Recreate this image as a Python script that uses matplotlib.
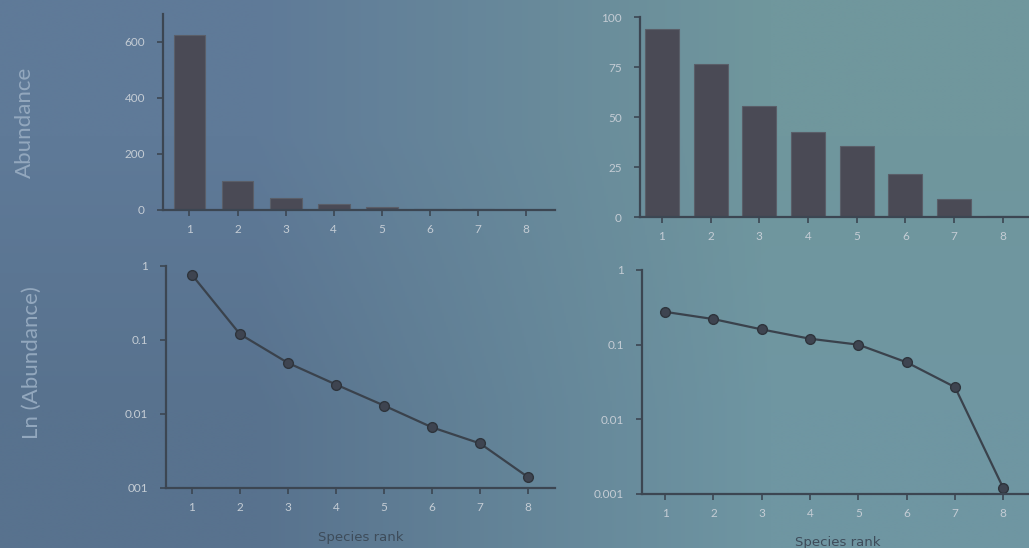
import numpy as np
import matplotlib
matplotlib.use("Agg")
import matplotlib.pyplot as plt

plt.rcParams['font.family'] = ['Lato', 'DejaVu Sans']

ranks = [1, 2, 3, 4, 5, 6, 7, 8]
rank_labels = ["1", "2", "3", "4", "5", "6", "7", "8"]

abund_left = [625, 105, 42, 20, 10, 5, 3, 1]
abund_right = [94, 76.5, 55.5, 42.5, 35.5, 21.5, 9, 0.4]

rel_left = [0.76, 0.12, 0.049, 0.025, 0.013, 0.0066, 0.004, 0.0014]
rel_right = [0.275, 0.22, 0.16, 0.12, 0.10, 0.058, 0.027, 0.0012]

yt_left_top = [0, 200, 400, 600]
yt_right_top = [0, 25, 50, 75, 100]
yt_log = [0.001, 0.01, 0.1, 1]
ytl_log_left = ["001", "0.01", "0.1", "1"]
ytl_log_right = ["0.001", "0.01", "0.1", "1"]

W, H = 1029, 548
fig = plt.figure(figsize=(W / 100, H / 100), dpi=100)

# background gradient (slide photo)
bg = fig.add_axes([0, 0, 1, 1])
img = np.array([[[95, 122, 152], [112, 151, 157]],
                [[88, 114, 142], [111, 150, 162]]], dtype=float) / 255.0
bg.imshow(img, extent=[0, 1, 0, 1], interpolation='bilinear', aspect='auto')
bg.set_xlim(0, 1)
bg.set_ylim(0, 1)
bg.axis('off')

bar_col = '#4a4a55'
line_col = '#3a424c'
txt_col = '#c4ccd4'
axis_col = '#3c4652'
lab_col = '#93a8be'
xlab_col = '#3e4c5a'


def px_axes(left, right, top, bottom):
    return fig.add_axes([left / W, 1 - bottom / H, (right - left) / W, (bottom - top) / H])


def style(ax):
    ax.set_facecolor('none')
    for s in ['top', 'right']:
        ax.spines[s].set_visible(False)
    for s in ['left', 'bottom']:
        ax.spines[s].set_color(axis_col)
        ax.spines[s].set_linewidth(1.6)
    ax.tick_params(axis='both', colors=axis_col, labelcolor=txt_col, labelsize=8.5,
                   length=4, width=1.2, direction='out')
    ax.tick_params(axis='y', pad=9)
    ax.tick_params(axis='x', pad=6)
    ax.set_xticks(ranks)
    ax.set_xticklabels(rank_labels)


# top-left
ax1 = px_axes(163, 555, 14, 210)
ax1.bar(ranks, abund_left, width=0.66, color=bar_col, edgecolor='#5a5e68', linewidth=0.8)
ax1.set_xlim(0.45, 8.6)
ax1.set_ylim(0, 700)
ax1.set_yticks(yt_left_top)
style(ax1)

# top-right
ax2 = px_axes(640, 640 + 8.05 * 48.7, 17, 217)
ax2.bar(ranks, abund_right, width=0.7, color=bar_col, edgecolor='#5a5e68', linewidth=0.8)
ax2.set_xlim(0.55, 8.6)
ax2.set_ylim(0, 100)
ax2.set_yticks(yt_right_top)
style(ax2)

# bottom-left
ax3 = px_axes(166, 555, 266, 488)
ax3.plot(ranks, rel_left, color=line_col, lw=1.6, marker='o', ms=7,
         mfc='#3e4450', mec='#2e343c')
ax3.set_yscale('log')
ax3.set_xlim(0.46, 8.56)
ax3.set_ylim(0.001, 1)
ax3.set_yticks(yt_log)
ax3.set_yticklabels(ytl_log_left)
ax3.minorticks_off()
style(ax3)
ax3.set_xlabel("Species rank", color=xlab_col, fontsize=9.5, labelpad=13,
               family=['DejaVu Sans'])

# bottom-right
ax4 = px_axes(642, 642 + 8.1 * 48.3, 270, 494)
ax4.plot(ranks, rel_right, color=line_col, lw=1.6, marker='o', ms=7,
         mfc='#3e4450', mec='#2e343c')
ax4.set_yscale('log')
ax4.set_xlim(0.52, 8.62)
ax4.set_ylim(0.001, 1)
ax4.set_yticks(yt_log)
ax4.set_yticklabels(ytl_log_right)
ax4.minorticks_off()
style(ax4)
ax4.set_xlabel("Species rank", color=xlab_col, fontsize=9.5, labelpad=12,
               family=['DejaVu Sans'])

fig.text(25 / W, 1 - 122 / H, "Abundance", rotation=90, ha='center', va='center',
         color=lab_col, fontsize=16)
fig.text(32 / W, 1 - 363 / H, "Ln (Abundance)", rotation=90, ha='center', va='center',
         color=lab_col, fontsize=16)

fig.savefig("out.png", dpi=100)
